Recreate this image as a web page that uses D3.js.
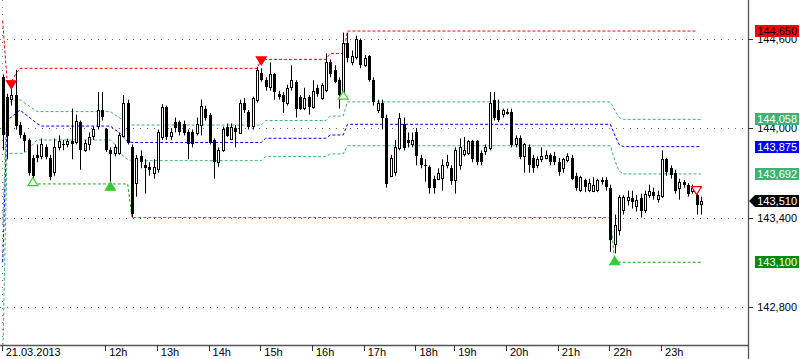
<!DOCTYPE html>
<html>
<head>
<meta charset="utf-8">
<script src="https://cdn.jsdelivr.net/npm/d3@7"></script>
<style>
  body { margin: 0; background: #fff; }
  svg { display: block; font-family: "Liberation Sans", Arial, sans-serif; }
</style>
</head>
<body>
<script>
// 5 minute bars, [open, high, low, close]
var candles = [
  [144.34,144.36,143.85,143.95],[144.21,144.23,143.79,143.95],[144.19,144.32,144.15,144.22],[144.22,144.39,143.99,144.01],
  [144.02,144.04,143.93,143.95],[143.95,143.97,143.84,143.91],[143.92,143.93,143.68,143.70],[143.80,143.82,143.66,143.68],
  [143.82,143.89,143.77,143.80],[143.81,143.93,143.79,143.89],[143.87,143.89,143.79,143.80],[143.80,143.82,143.65,143.67],
  [143.70,143.93,143.68,143.87],[143.87,143.95,143.85,143.91],[143.89,143.92,143.85,143.88],[143.89,143.93,143.87,143.91],
  [143.91,144.13,143.79,143.89],[143.91,144.09,143.89,144.05],[144.04,144.05,143.72,143.85],[143.85,143.92,143.84,143.90],
  [143.89,143.97,143.85,143.94],[143.94,144.01,143.92,143.99],[144.01,144.24,143.99,144.12],[144.12,144.24,144.05,144.07],
  [143.99,144.00,143.84,143.85],[143.85,143.87,143.64,143.82],[143.83,143.89,143.81,143.87],[143.83,143.97,143.82,143.95],
  [143.95,144.22,143.94,144.17],[144.17,144.19,143.89,143.90],[143.87,143.89,143.40,143.42],[143.63,143.82,143.54,143.80],
  [143.81,143.85,143.73,143.77],[143.75,143.79,143.56,143.73],[143.74,143.77,143.68,143.72],[143.70,143.79,143.66,143.74],
  [143.72,143.99,143.70,143.97],[143.94,144.16,143.92,144.14],[144.14,144.15,143.92,143.94],[143.94,144.00,143.92,143.97],
  [144.04,144.07,143.97,144.00],[144.04,144.05,143.95,143.97],[144.03,144.05,143.95,143.97],[143.97,143.99,143.79,143.89],
  [143.97,143.99,143.87,143.89],[143.97,144.07,143.95,144.03],[144.02,144.19,143.95,144.15],[144.13,144.15,144.05,144.07],
  [144.09,144.10,143.89,143.90],[143.92,143.93,143.66,143.77],[143.77,143.87,143.74,143.85],[143.85,144.01,143.84,143.99],
  [144.01,144.03,143.94,143.95],[143.93,144.03,143.92,144.01],[144.00,144.02,143.87,143.97],[143.97,144.19,143.96,144.17],
  [144.17,144.20,144.10,144.12],[144.11,144.12,143.99,144.01],[144.01,144.21,143.99,144.20],[144.19,144.41,144.17,144.39],
  [144.37,144.40,144.31,144.32],[144.32,144.34,144.25,144.27],[144.27,144.44,144.25,144.36],[144.36,144.37,144.19,144.24],
  [144.23,144.25,144.19,144.21],[144.22,144.24,144.10,144.17],[144.17,144.29,144.15,144.27],[144.27,144.42,144.25,144.32],
  [144.31,144.32,144.07,144.13],[144.21,144.22,144.12,144.13],[144.13,144.27,144.12,144.20],[144.21,144.22,144.09,144.14],
  [144.14,144.32,144.13,144.25],[144.27,144.29,144.21,144.23],[144.20,144.30,144.19,144.29],[144.25,144.50,144.24,144.44],
  [144.44,144.46,144.34,144.36],[144.39,144.42,144.30,144.31],[144.32,144.34,144.13,144.22],[144.22,144.64,144.20,144.57],
  [144.57,144.64,144.44,144.47],[144.44,144.52,144.42,144.48],[144.48,144.62,144.46,144.60],[144.59,144.60,144.40,144.42],
  [144.42,144.49,144.41,144.47],[144.48,144.49,144.31,144.32],[144.32,144.34,144.15,144.17],[144.12,144.19,144.10,144.17],
  [144.17,144.19,143.99,144.07],[144.07,144.09,143.60,143.63],[143.68,143.82,143.67,143.80],[143.70,143.92,143.68,143.87],
  [143.87,144.10,143.85,144.07],[144.03,144.07,143.85,143.87],[143.92,143.97,143.87,143.90],[143.89,143.97,143.87,143.92],
  [143.97,144.00,143.75,143.81],[143.80,143.82,143.73,143.75],[143.75,143.79,143.64,143.74],[143.74,143.75,143.56,143.60],
  [143.66,143.68,143.56,143.60],[143.66,143.73,143.65,143.70],[143.66,143.79,143.58,143.75],[143.75,143.82,143.73,143.77],
  [143.73,143.75,143.62,143.64],[143.65,143.87,143.56,143.85],[143.75,143.93,143.72,143.87],[143.82,143.94,143.81,143.85],
  [143.83,143.92,143.82,143.91],[143.91,143.92,143.77,143.79],[143.91,143.92,143.75,143.77],[143.83,143.85,143.75,143.77],
  [143.84,143.89,143.82,143.87],[143.87,144.24,143.85,144.17],[144.19,144.24,144.05,144.07],[144.12,144.19,144.04,144.05],
  [144.09,144.13,144.07,144.12],[144.10,144.13,144.09,144.11],[144.11,144.13,143.87,143.89],[143.89,143.95,143.87,143.93],
  [143.93,143.95,143.79,143.80],[143.81,143.90,143.70,143.89],[143.87,143.89,143.70,143.75],[143.80,143.82,143.70,143.73],
  [143.75,143.81,143.73,143.79],[143.79,143.87,143.77,143.81],[143.80,143.85,143.79,143.82],[143.82,143.83,143.75,143.77],
  [143.81,143.84,143.75,143.77],[143.77,143.80,143.68,143.70],[143.73,143.80,143.70,143.79],[143.78,143.83,143.77,143.81],
  [143.80,143.82,143.65,143.66],[143.68,143.70,143.58,143.60],[143.58,143.68,143.57,143.67],[143.65,143.66,143.57,143.60],
  [143.58,143.66,143.57,143.63],[143.58,143.67,143.57,143.62],[143.58,143.66,143.57,143.65],[143.64,143.67,143.62,143.65],
  [143.65,143.67,143.58,143.60],[143.60,143.62,143.17,143.25],[143.22,143.42,143.16,143.35],[143.32,143.55,143.28,143.54],
  [143.45,143.55,143.42,143.54],[143.52,143.58,143.48,143.54],[143.53,143.58,143.46,143.50],[143.48,143.55,143.44,143.52],
  [143.53,143.56,143.40,143.44],[143.45,143.58,143.43,143.56],[143.55,143.62,143.53,143.58],[143.57,143.60,143.52,143.54],
  [143.52,143.58,143.50,143.55],[143.54,143.85,143.53,143.79],[143.79,143.80,143.68,143.70],[143.73,143.75,143.66,143.68],
  [143.70,143.72,143.56,143.58],[143.60,143.66,143.52,143.64],[143.64,143.65,143.60,143.62],[143.62,143.63,143.54,143.56],
  [143.58,143.62,143.56,143.60],[143.55,143.56,143.42,143.48],[143.49,143.54,143.42,143.51]
];

// time axis: bar index of each hour mark
var timeTickIdx = [0, 24, 36, 48, 60, 72, 84, 96, 105, 117, 129, 141, 153];
var timeTickLabels = ["21.03.2013", "12h", "13h", "14h", "15h", "16h", "17h", "18h", "19h", "20h", "21h", "22h", "23h"];

var priceTicks = [144.6, 144.0, 143.4, 142.8];

// indicator lines, [bar index, price]
var upperBand = [[0,143.35],[1,144.17],[4,144.19],[8,144.11],[25,144.11],[26,144.09],[27,144.07],[28,144.05],[29,144.03],
  [30,144.02],[60,144.02],[61,144.05],[75,144.05],[76,144.08],[79,144.08],[80,144.175],[141,144.175],[142,144.12],[143,144.07],[144,144.058],[162,144.058]];
var midBand = [[0,143.10],[1,144.05],[4,144.12],[8,144.03],[9,144.013],[25,144.013],[26,143.99],[27,143.97],[28,143.94],[29,143.91],
  [30,143.903],[60,143.903],[61,143.931],[75,143.931],[76,143.953],[79,143.953],[80,144.025],[141,144.025],[142,143.953],[143,143.89],[144,143.875],[162,143.875]];
var lowerBand = [[0,142.44],[1,143.83],[5,143.83],[8,143.92],[25,143.92],[26,143.89],[27,143.85],[28,143.81],[29,143.79],
  [30,143.781],[60,143.781],[61,143.808],[75,143.808],[76,143.826],[79,143.826],[80,143.881],[141,143.881],[142,143.785],[143,143.712],[144,143.692],[162,143.692]];
var resistance = [[0,144.72],[1,144.32],[2,144.31],[3,144.36],[4,144.40],[59,144.40],[60,144.46],[75,144.46],[76,144.50],[79,144.50],[80,144.65],[161,144.65]];
var support = [[7,143.625],[29,143.625],[30,143.40],[141,143.40],[142,143.10],[162,143.10]];

// arrows: bar index, price, direction, filled
var signals = [
  {i: 2, p: 144.29, dir: "down", filled: true},
  {i: 60, p: 144.45, dir: "down", filled: true},
  {i: 161, p: 143.58, dir: "down", filled: false},
  {i: 7, p: 143.64, dir: "up", filled: false},
  {i: 25, p: 143.61, dir: "up", filled: true},
  {i: 79, p: 144.22, dir: "up", filled: false},
  {i: 142, p: 143.11, dir: "up", filled: true}
];

var levelPrices = [144.650, 144.058, 143.875, 143.692, 143.510, 143.100];
var levelFills = ["#ff0000", "#3cb371", "#0000ff", "#3cb371", "#000000", "#0a8a0a"];
var levelText = ["#000000", "#ffffff", "#ffffff", "#ffffff", "#ffffff", "#ffffff"];

var width = 800, height = 359;
var plotRight = 748, axisY = 345;

var fmt = d3.formatLocale({decimal: ",", thousands: ".", grouping: [3], currency: ["", ""]}).format(".3f");

var x = d3.scaleLinear().domain([0, 162]).range([2.7, 700.9]);
var y = d3.scaleLinear().domain([142.8, 144.6]).range([307, 38.5]);

var svg = d3.select("body").append("svg").attr("width", width).attr("height", height);

svg.append("defs").append("clipPath").attr("id", "plot")
   .append("rect").attr("x", 0).attr("y", 0).attr("width", plotRight).attr("height", axisY);

// dotted grid
svg.append("g").selectAll("line").data(priceTicks).enter().append("line")
   .attr("x1", 0).attr("x2", plotRight)
   .attr("y1", function(d){ return Math.round(y(d)) + 0.5; })
   .attr("y2", function(d){ return Math.round(y(d)) + 0.5; })
   .attr("stroke", "#666").attr("stroke-dasharray", "1,6");

var plot = svg.append("g").attr("clip-path", "url(#plot)");

plot.append("line").attr("x1", 2.5).attr("x2", 2.5).attr("y1", 0).attr("y2", axisY)
    .attr("stroke", "#777").attr("stroke-dasharray", "1,6");

var line = d3.line()
   .x(function(d){ return x(d[0]); })
   .y(function(d){ return y(d[1]); });

function drawLine(data, color) {
  plot.append("path").attr("d", line(data))
      .attr("fill", "none").attr("stroke", color).attr("stroke-width", 1)
      .attr("stroke-dasharray", "3,2");
}
drawLine(upperBand, "#3cb371");
drawLine(lowerBand, "#3cb371");
drawLine(midBand, "#0000ff");
drawLine(resistance, "#ff0000");
drawLine(support, "#1aaa1a");

// candles
var bars = plot.append("g").selectAll("g").data(candles).enter().append("g");

bars.append("line")
    .attr("x1", function(d, i){ return Math.round(x(i)) + 0.5; })
    .attr("x2", function(d, i){ return Math.round(x(i)) + 0.5; })
    .attr("y1", function(d){ return y(d[1]); })
    .attr("y2", function(d){ return y(d[2]); })
    .attr("stroke", "#000").attr("stroke-width", 1);

bars.append("rect")
    .attr("x", function(d, i){ return d[3] >= d[0] ? Math.round(x(i)) - 0.5 : Math.round(x(i)) - 1; })
    .attr("y", function(d){ return Math.round(y(Math.max(d[0], d[3]))) + (d[3] >= d[0] ? 0.5 : 0); })
    .attr("width", function(d){ return d[3] >= d[0] ? 2 : 3; })
    .attr("height", function(d){ return Math.max(1, Math.round(Math.abs(y(d[0]) - y(d[3])))); })
    .attr("fill", function(d){ return d[3] >= d[0] ? "#fff" : "#000"; })
    .attr("stroke", function(d){ return d[3] >= d[0] ? "#000" : "none"; })
    .attr("stroke-width", 1);

// signal arrows
plot.append("g").selectAll("path").data(signals).enter().append("path")
    .attr("d", function(d){
      var cx = x(d.i), cy = y(d.p);
      if (d.dir === "down") return "M" + (cx - 5) + "," + (cy - 4) + "L" + (cx + 5) + "," + (cy - 4) + "L" + cx + "," + (cy + 4) + "Z";
      return "M" + (cx - 5) + "," + (cy + 4) + "L" + (cx + 5) + "," + (cy + 4) + "L" + cx + "," + (cy - 4) + "Z";
    })
    .attr("fill", function(d){ return d.filled ? (d.dir === "down" ? "#ff0000" : "#33cc33") : "#fff"; })
    .attr("stroke", function(d){ return d.dir === "down" ? "#ff0000" : "#33cc33"; })
    .attr("stroke-width", 1.2);

// axes frame
svg.append("line").attr("x1", 0).attr("x2", plotRight).attr("y1", axisY + 0.5).attr("y2", axisY + 0.5)
   .attr("stroke", "#555").attr("stroke-width", 1.3);
svg.append("line").attr("x1", plotRight + 0.5).attr("x2", plotRight + 0.5).attr("y1", 0).attr("y2", height)
   .attr("stroke", "#555").attr("stroke-width", 1.3);

// time ticks
var tt = svg.append("g").selectAll("g").data(timeTickIdx).enter().append("g");
tt.append("line")
  .attr("x1", function(d){ return Math.round(x(d)) - 0.5; })
  .attr("x2", function(d){ return Math.round(x(d)) - 0.5; })
  .attr("y1", axisY).attr("y2", axisY + 6)
  .attr("stroke", "#333");
tt.append("text")
  .attr("x", function(d){ return x(d) + 3; })
  .attr("y", 356)
  .attr("font-size", 11).attr("fill", "#000")
  .text(function(d, i){ return timeTickLabels[i]; });

// price ticks
var pt = svg.append("g").selectAll("g").data(priceTicks).enter().append("g");
pt.append("line")
  .attr("x1", plotRight).attr("x2", plotRight + 5)
  .attr("y1", function(d){ return Math.round(y(d)) + 0.5; })
  .attr("y2", function(d){ return Math.round(y(d)) + 0.5; })
  .attr("stroke", "#333");
pt.append("text")
  .attr("x", 797).attr("y", function(d){ return y(d) + 4; })
  .attr("text-anchor", "end").attr("font-size", 11).attr("fill", "#000")
  .text(function(d){ return fmt(d); });

// level labels
var lv = svg.append("g").selectAll("g").data(levelPrices).enter().append("g");
lv.append("path")
  .attr("d", function(d, i){
    var cy = Math.round(y(d));
    if (levelFills[i] === "#000000")
      return "M" + (plotRight + 1) + "," + cy + "L755," + (cy - 6) + "L799," + (cy - 6) + "L799," + (cy + 6) + "L755," + (cy + 6) + "Z";
    return "M755," + (cy - 6) + "L799," + (cy - 6) + "L799," + (cy + 6) + "L755," + (cy + 6) + "Z";
  })
  .attr("fill", function(d, i){ return levelFills[i]; });
lv.append("text")
  .attr("x", 797).attr("y", function(d){ return Math.round(y(d)) + 4; })
  .attr("text-anchor", "end").attr("font-size", 11)
  .attr("fill", function(d, i){ return levelText[i]; })
  .text(function(d){ return fmt(d); });
</script>
</body>
</html>
